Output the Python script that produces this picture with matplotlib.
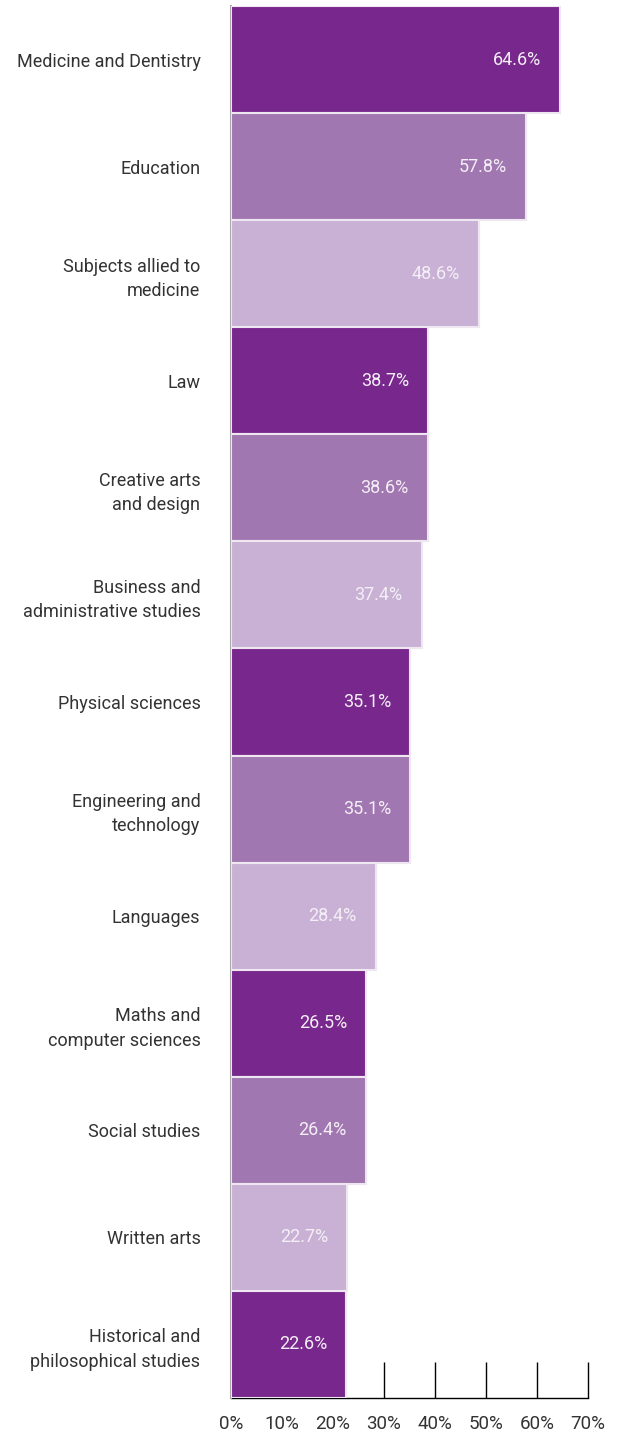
import matplotlib.pyplot as plt
from matplotlib import font_manager

categories = [
    "Medicine and Dentistry",
    "Education",
    "Subjects allied to\nmedicine",
    "Law",
    "Creative arts\nand design",
    "Business and\nadministrative studies",
    "Physical sciences",
    "Engineering and\ntechnology",
    "Languages",
    "Maths and\ncomputer sciences",
    "Social studies",
    "Written arts",
    "Historical and\nphilosophical studies",
]
values = [64.6, 57.8, 48.6, 38.7, 38.6, 37.4, 35.1, 35.1, 28.4, 26.5, 26.4, 22.7, 22.6]
tick_values = [0, 10, 20, 30, 40, 50, 60, 70]
tick_labels = ["0%", "10%", "20%", "30%", "40%", "50%", "60%", "70%"]

palette = ["#78288c", "#a077b0", "#c9b1d5"]

names = {f.name for f in font_manager.fontManager.ttflist}
family = ["Liberation Sans Narrow", "DejaVu Sans"] if "Liberation Sans Narrow" in names else ["Roboto", "DejaVu Sans"]
plt.rcParams["font.family"] = family

fig = plt.figure(figsize=(6.19, 14.35), dpi=100)
ax = fig.add_axes([231 / 619, 1 - 1398 / 1435, (588 - 231) / 619, (1398 - 6) / 1435])

ypos = list(range(len(values)))
colors = [palette[i % 3] for i in ypos]
ax.barh(ypos, values, height=1.0, color=colors, edgecolor="#eee6f0", linewidth=1.5, zorder=3)

for y, v in zip(ypos, values):
    ax.annotate(f"{v}%", xy=(v, y), xytext=(-19, 0), textcoords="offset pixels",
                ha="right", va="center", color="#f4eef6", fontsize=13, zorder=4)

ax.set_xlim(0, 70)
ax.set_ylim(len(values) - 0.5, -0.5)
ax.set_yticks(ypos)
ax.set_yticklabels(categories, fontsize=13, color="#333333", linespacing=1.45)
ax.tick_params(axis="y", length=0, pad=22)
ax.set_xticks(tick_values)
ax.set_xticklabels(tick_labels, fontsize=13.5, color="#333333")
ax.tick_params(axis="x", direction="in", length=26, width=1, color="black", pad=12)

for side in ["top", "right"]:
    ax.spines[side].set_visible(False)
ax.spines["left"].set_color("#aaaaaa")
ax.spines["left"].set_linewidth(1.5)
ax.spines["bottom"].set_color("black")
ax.spines["bottom"].set_linewidth(1)
ax.spines["bottom"].set_zorder(1)

fig.savefig("out.png", dpi=100)
